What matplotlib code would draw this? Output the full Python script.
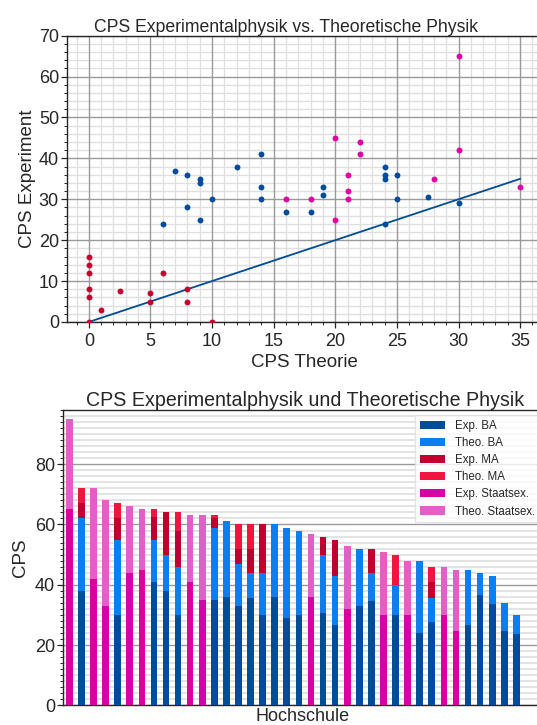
import numpy as np
import matplotlib.pyplot as plt
from matplotlib.ticker import MultipleLocator

plt.rcParams['font.family'] = ['Liberation Sans', 'DejaVu Sans']
plt.rcParams['text.color'] = '#262626'
plt.rcParams['axes.labelcolor'] = '#262626'
plt.rcParams['xtick.color'] = '#262626'
plt.rcParams['ytick.color'] = '#262626'

# scatter: CPS theory vs. CPS experiment per programme type
ba_theo = [6, 7, 8, 8, 9, 9, 9, 10, 12, 14, 14, 14, 16, 18, 19, 19, 24, 24, 24, 25, 25, 24, 27.5, 30]
ba_exp = [24, 37, 36, 28, 35, 34, 25, 30, 38, 41, 33, 30, 27, 27, 33, 31, 38, 36, 35, 36, 30, 24, 30.5, 29]
ma_theo = [0, 0, 0, 0, 0, 0, 1, 2.5, 5, 5, 6, 8, 8, 10]
ma_exp = [16, 14, 12, 8, 6, 0, 3, 7.5, 7, 5, 12, 8, 5, 0]
st_theo = [16, 18, 20, 20, 21, 21, 21, 22, 22, 28, 30, 30, 35]
st_exp = [30, 30, 45, 25, 36, 32, 30, 44, 41, 35, 65, 42, 33]
diag = [0, 35]

# stacked bars per Hochschule
exp_ba = [0, 38, 0, 0, 30, 0, 0, 41, 38, 30, 0, 0, 35, 36, 33, 35.5, 30, 36, 29, 30,
          0, 30.5, 26.5, 0, 33, 34.5, 0, 30, 0, 24, 27.5, 0, 0, 26.5, 36.5, 33.5, 24.5, 23.5]
theo_ba = [0, 24, 0, 0, 25, 0, 0, 14, 12, 16, 0, 0, 24, 25, 14, 8.5, 14, 24, 30, 28,
           0, 19.5, 16.5, 0, 19, 9.5, 0, 10, 0, 24, 8, 0, 0, 18.5, 7.5, 9.5, 9.5, 6.5]
exp_ma = [0, 5, 0, 0, 7, 0, 0, 7.5, 14, 12, 0, 0, 3, 0, 5, 8, 16, 0, 0, 0,
          0, 6, 12, 0, 0, 8, 0, 0, 0, 0, 5.5, 0, 0, 0, 0, 0, 0, 0]
theo_ma = [0, 5, 0, 0, 5, 0, 0, 2.5, 0, 6, 0, 0, 1, 0, 8, 8, 0, 0, 0, 0,
           0, 0, 0, 0, 0, 0, 0, 10, 0, 0, 5, 0, 0, 0, 0, 0, 0, 0]
exp_st = [65, 0, 42, 33, 0, 44, 45, 0, 0, 0, 41, 35, 0, 0, 0, 0, 0, 0, 0, 0,
          36, 0, 0, 32, 0, 0, 30, 0, 30, 0, 0, 30, 24.5, 0, 0, 0, 0, 0]
theo_st = [30, 0, 30, 35, 0, 22, 20, 0, 0, 0, 22, 28, 0, 0, 0, 0, 0, 0, 0, 0,
           21, 0, 0, 21, 0, 0, 21, 0, 18, 0, 0, 16, 20.5, 0, 0, 0, 0, 0]

labels = ['Exp. BA', 'Theo. BA', 'Exp. MA', 'Theo. MA', 'Exp. Staatsex.', 'Theo. Staatsex.']
colors = ['#004c9c', '#0b7ef2', '#c0002e', '#f0143f', '#d900a4', '#e35fc8']

blue = '#004c9c'
red = '#c8002d'
magenta = '#e000a6'

MINOR = '#e0e0e0'
MAJOR = '#9a9a9a'


def minor_grid(ax, xdir=True, ydir=True, lw=1.0):
    # light minor lines under the major grid
    x0, x1 = ax.get_xlim()
    y0, y1 = ax.get_ylim()
    if xdir:
        ax.vlines([v for v in ax.xaxis.get_minorticklocs() if x0 < v < x1], y0, y1,
                  color=MINOR, lw=lw, zorder=0.2)
    if ydir:
        ax.hlines([v for v in ax.yaxis.get_minorticklocs() if y0 < v < y1], x0, x1,
                  color=MINOR, lw=lw, zorder=0.2)
    ax.set_xlim(x0, x1)
    ax.set_ylim(y0, y1)


fig = plt.figure(figsize=(5.37, 7.25), dpi=100)

# --- top: scatter ---
ax1 = fig.add_axes([0.1253, 0.5559, 0.8834, 0.3949])
ax1.set_axisbelow(True)
ax1.plot(diag, diag, color=blue, lw=1.3, zorder=2)
ax1.scatter(ma_theo, ma_exp, s=18, color=red, zorder=3, linewidths=0)
ax1.scatter(ba_theo, ba_exp, s=18, color=blue, zorder=3, linewidths=0)
ax1.scatter(st_theo, st_exp, s=18, color=magenta, zorder=3, linewidths=0)
ax1.set_xlim(-1.75, 36.75)
ax1.set_ylim(0, 70)
ax1.xaxis.set_major_locator(MultipleLocator(5))
ax1.xaxis.set_minor_locator(MultipleLocator(1))
ax1.yaxis.set_major_locator(MultipleLocator(10))
ax1.yaxis.set_minor_locator(MultipleLocator(2))
ax1.grid(which='major', color=MAJOR, lw=1.0)
minor_grid(ax1)
ax1.set_title('CPS Experimentalphysik vs. Theoretische Physik', fontsize=12.7, pad=3, x=0.462)
ax1.set_xlabel('CPS Theorie', fontsize=13.5, labelpad=3)
ax1.set_ylabel('CPS Experiment', fontsize=13.5, labelpad=2)

# --- bottom: stacked bars ---
ax2 = fig.add_axes([0.1179, 0.0272, 0.8909, 0.4073])
ax2.set_axisbelow(True)
series = [exp_ba, theo_ba, exp_ma, theo_ma, exp_st, theo_st]
x = np.arange(len(exp_ba))
bottom = np.zeros(len(exp_ba))
for vals, lab, col in zip(series, labels, colors):
    vals = np.array(vals, dtype=float)
    ax2.bar(x, vals, 0.55, bottom=bottom, color=col, label=lab, zorder=3)
    bottom += vals
ax2.set_xlim(-0.5, 39.1)
ax2.set_ylim(0, 98)
ax2.set_xticks([])
ax2.yaxis.set_major_locator(MultipleLocator(20))
ax2.yaxis.set_minor_locator(MultipleLocator(2))
ax2.grid(axis='y', which='major', color=MAJOR, lw=1.0)
minor_grid(ax2, xdir=False, lw=1.3)
ax2.set_title('CPS Experimentalphysik und Theoretische Physik', fontsize=14.1, pad=3, x=0.505)
ax2.set_xlabel('Hochschule', fontsize=13, labelpad=2)
ax2.set_ylabel('CPS', fontsize=13.5, labelpad=4)
ax2.legend(loc='upper right', bbox_to_anchor=(0.9954, 0.983), borderaxespad=0,
           fontsize=8.3, handlelength=2.2, labelspacing=0.45, framealpha=0.8,
           edgecolor='#dddddd', fancybox=False)

for ax in (ax1, ax2):
    for sp in ax.spines.values():
        sp.set_color('#262626')
        sp.set_linewidth(1.0)
    ax.tick_params(which='major', length=4, width=0.9, labelsize=13, pad=2)
    ax.tick_params(which='minor', length=2, width=0.7)
ax1.tick_params(axis='x', which='major', pad=4)

fig.savefig('out.png', dpi=100)
